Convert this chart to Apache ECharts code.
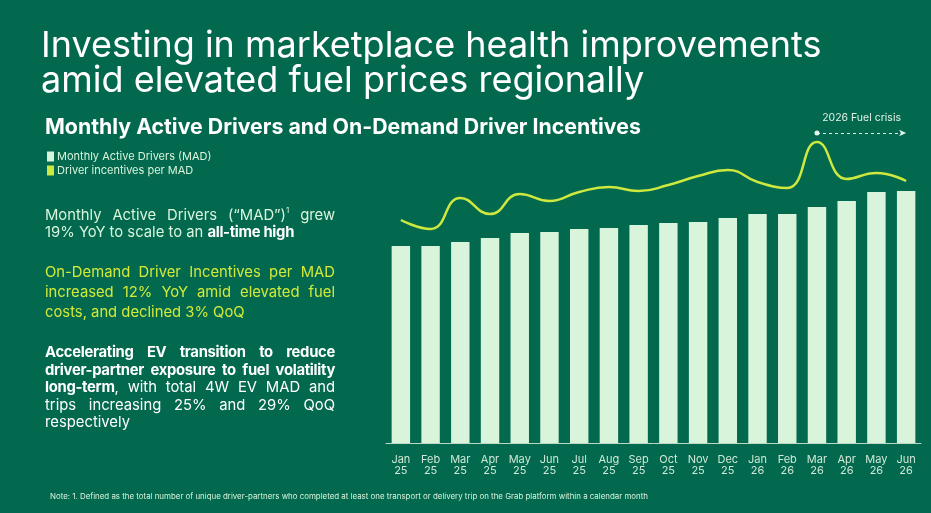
<!DOCTYPE html>
<html>
<head>
<meta charset="utf-8">
<script src="https://cdn.jsdelivr.net/npm/echarts@6.0.0/dist/echarts.min.js"></script>
<style>
    html,body{margin:0;padding:0;background:#02684e;}
    #wrap{position:relative;width:931px;height:513px;overflow:hidden;}
    #chart{position:absolute;left:0;top:0;width:931px;height:513px;}
    .notes{position:absolute;left:45px;width:290px;font-family:Inter,sans-serif;font-size:14.8px;text-align:justify;text-align-last:left;}
    .notes b{font-weight:700;letter-spacing:-0.3px;}
    .notes sup{font-size:8px;vertical-align:7px;line-height:0;}
</style>
</head>
<body>
<div id="wrap">
    <div id="chart"></div>
    <div class="notes" style="top:207px;line-height:17px;color:#d8f5dc;">Monthly Active Drivers (“MAD”)<sup>1</sup> grew 19% YoY to scale to an <b style="color:#ffffff">all-time high</b></div>
    <div class="notes" style="top:262px;line-height:20px;color:#d2ea3a;">On-Demand Driver Incentives per MAD increased 12% YoY amid elevated fuel costs, and declined 3% QoQ</div>
    <div class="notes" style="top:344px;line-height:17.5px;color:#ffffff;"><b>Accelerating EV transition to reduce driver-partner exposure to fuel volatility long-term</b>, with total 4W EV MAD and trips increasing 25% and 29% QoQ respectively</div>
</div>
<script>
    // months on the x axis
    var months = ['Jan 25', 'Feb 25', 'Mar 25', 'Apr 25', 'May 25', 'Jun 25', 'Jul 25', 'Aug 25', 'Sep 25',
        'Oct 25', 'Nov 25', 'Dec 25', 'Jan 26', 'Feb 26', 'Mar 26', 'Apr 26', 'May 26', 'Jun 26'];
    // MAD, relative scale (no axis shown in the source)
    var madValues = [197, 197, 201, 205, 210, 211, 214, 215, 218, 220, 221, 225, 229, 229, 236, 242, 251, 252];
    // incentives per MAD, relative scale
    var incentiveValues = [223, 214, 245, 229, 249, 242, 251, 256, 252, 258, 267, 273, 261, 255, 301, 264, 270, 262];
    var crisisStart = 'Mar 26';
    var crisisEnd = 'Jun 26';
    var crisisLevel = 310;

    var dom = document.getElementById("chart");
    var myChart = echarts.init(dom);
    option = null;
    option = {
        backgroundColor: '#02684e',
        animation: false,
        title: [{
            text: 'Investing in marketplace health improvements\namid elevated fuel prices regionally',
            left: 36,
            top: 24,
            textStyle: {color: '#ffffff', fontFamily: 'Inter', fontWeight: 400, fontSize: 36, lineHeight: 35}
        }, {
            text: 'Monthly Active Drivers and On-Demand Driver Incentives',
            left: 40,
            top: 112,
            textStyle: {color: '#ffffff', fontFamily: 'Inter', fontWeight: 700, fontSize: 21.3}
        }, {
            text: 'Note: 1. Defined as the total number of unique driver-partners who completed at least one transport or delivery trip on the Grab platform within a calendar month',
            left: 45,
            top: 488,
            textStyle: {color: '#d8f5dc', fontFamily: 'Inter', fontWeight: 400, fontSize: 7.9}
        }],
        legend: {
            orient: 'vertical',
            left: 47,
            top: 151,
            padding: 0,
            itemWidth: 7,
            itemHeight: 10,
            itemGap: 3,
            icon: 'rect',
            textStyle: {color: '#d8f5dc', fontFamily: 'Inter', fontSize: 11, padding: [0, 0, 0, -2]},
            data: ['Monthly Active Drivers (MAD)', 'Driver incentives per MAD']
        },
        grid: {
            left: 386,
            right: 10,
            top: 100,
            bottom: 70
        },
        xAxis: {
            type: 'category',
            data: months,
            axisLine: {lineStyle: {color: '#b9d9c5', width: 1}},
            axisTick: {show: false},
            axisLabel: {
                color: '#cfe9d6',
                fontFamily: 'Inter',
                fontSize: 11,
                lineHeight: 11,
                margin: 11,
                formatter: function (v) { return v.replace(' ', '\n'); }
            }
        },
        yAxis: [
            {type: 'value', min: 0, max: 343, show: false, splitLine: {show: false}},
            {type: 'value', min: 0, max: 343, show: false, splitLine: {show: false}}
        ],
        series: [
            {
                name: 'Monthly Active Drivers (MAD)',
                type: 'bar',
                data: madValues,
                barWidth: '62%',
                itemStyle: {color: '#d8f5dc'}
            },
            {
                name: 'Driver incentives per MAD',
                type: 'line',
                yAxisIndex: 1,
                data: incentiveValues,
                smooth: 0.5,
                showSymbol: false,
                symbol: 'none',
                clip: false,
                lineStyle: {color: '#cde83e', width: 2.5},
                itemStyle: {color: '#cde83e'},
                markLine: {
                    silent: true,
                    symbol: ['circle', 'arrow'],
                    symbolSize: [5, 7],
                    lineStyle: {color: '#e4f3e8', type: [3, 3], width: 1.2},
                    label: {
                        show: true,
                        position: 'middle',
                        distance: 10,
                        color: '#e4f3e8',
                        fontFamily: 'Inter',
                        fontSize: 10.5,
                        formatter: '2026 Fuel crisis'
                    },
                    data: [[
                        {coord: [crisisStart, crisisLevel]},
                        {coord: [crisisEnd, crisisLevel]}
                    ]]
                }
            }
        ]
    };

    if (option && typeof option === "object") {
        myChart.setOption(option, true);
    }
</script>
</body>
</html>
